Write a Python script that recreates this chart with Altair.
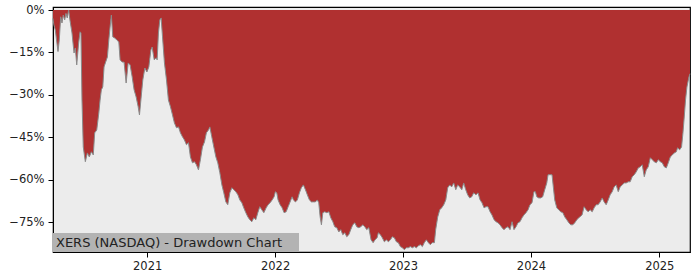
import altair as alt
import pandas as pd
import numpy as np

# decimal-year time stamps and drawdown (%)
years = [
    2020.266, 2020.273, 2020.284, 2020.305, 2020.315, 2020.326, 2020.336, 2020.346, 2020.357, 2020.367,
    2020.377, 2020.388, 2020.398, 2020.414, 2020.430, 2020.440, 2020.451, 2020.466, 2020.477, 2020.484,
    2020.492, 2020.502, 2020.518, 2020.534, 2020.549, 2020.565, 2020.580, 2020.591, 2020.607, 2020.623,
    2020.633, 2020.643, 2020.654, 2020.664, 2020.674, 2020.690, 2020.701, 2020.711, 2020.721, 2020.732,
    2020.748, 2020.763, 2020.779, 2020.789, 2020.805, 2020.820, 2020.836, 2020.852, 2020.867, 2020.883,
    2020.898, 2020.914, 2020.930, 2020.940, 2020.951, 2020.966, 2020.982, 2020.998, 2021.013, 2021.029,
    2021.039, 2021.055, 2021.070, 2021.078, 2021.088, 2021.099, 2021.109, 2021.120, 2021.135, 2021.151,
    2021.166, 2021.182, 2021.198, 2021.213, 2021.229, 2021.245, 2021.260, 2021.276, 2021.291, 2021.307,
    2021.323, 2021.338, 2021.354, 2021.370, 2021.385, 2021.401, 2021.416, 2021.432, 2021.448, 2021.463,
    2021.479, 2021.490, 2021.505, 2021.521, 2021.537, 2021.552, 2021.568, 2021.584, 2021.599, 2021.615,
    2021.630, 2021.646, 2021.662, 2021.677, 2021.693, 2021.709, 2021.724, 2021.740, 2021.755, 2021.771,
    2021.787, 2021.802, 2021.818, 2021.834, 2021.849, 2021.865, 2021.880, 2021.896, 2021.912, 2021.930,
    2021.945, 2021.961, 2021.977, 2021.992, 2022.002, 2022.013, 2022.023, 2022.039, 2022.055, 2022.070,
    2022.086, 2022.102, 2022.117, 2022.133, 2022.143, 2022.159, 2022.174, 2022.190, 2022.205, 2022.221,
    2022.237, 2022.252, 2022.268, 2022.284, 2022.299, 2022.315, 2022.330, 2022.341, 2022.352, 2022.362,
    2022.373, 2022.388, 2022.404, 2022.420, 2022.435, 2022.451, 2022.466, 2022.482, 2022.498, 2022.513,
    2022.529, 2022.545, 2022.560, 2022.576, 2022.591, 2022.607, 2022.623, 2022.638, 2022.654, 2022.670,
    2022.685, 2022.701, 2022.716, 2022.732, 2022.750, 2022.766, 2022.781, 2022.797, 2022.807, 2022.823,
    2022.838, 2022.854, 2022.870, 2022.885, 2022.901, 2022.916, 2022.932, 2022.948, 2022.963, 2022.979,
    2022.995, 2023.010, 2023.026, 2023.041, 2023.057, 2023.073, 2023.088, 2023.104, 2023.120, 2023.135,
    2023.151, 2023.166, 2023.182, 2023.198, 2023.213, 2023.229, 2023.245, 2023.255, 2023.271, 2023.287,
    2023.302, 2023.318, 2023.334, 2023.349, 2023.365, 2023.380, 2023.396, 2023.412, 2023.427, 2023.443,
    2023.459, 2023.474, 2023.490, 2023.505, 2023.521, 2023.537, 2023.552, 2023.570, 2023.586, 2023.602,
    2023.617, 2023.633, 2023.648, 2023.664, 2023.680, 2023.695, 2023.711, 2023.727, 2023.742, 2023.758,
    2023.773, 2023.789, 2023.805, 2023.820, 2023.836, 2023.852, 2023.867, 2023.883, 2023.898, 2023.914,
    2023.930, 2023.945, 2023.961, 2023.977, 2023.992, 2024.008, 2024.023, 2024.034, 2024.045, 2024.060,
    2024.076, 2024.091, 2024.107, 2024.123, 2024.133, 2024.148, 2024.164, 2024.174, 2024.185, 2024.201,
    2024.216, 2024.232, 2024.248, 2024.263, 2024.279, 2024.295, 2024.310, 2024.326, 2024.341, 2024.357,
    2024.373, 2024.398, 2024.414, 2024.430, 2024.445, 2024.461, 2024.477, 2024.492, 2024.508, 2024.523,
    2024.539, 2024.555, 2024.570, 2024.586, 2024.602, 2024.617, 2024.633, 2024.648, 2024.664, 2024.680,
    2024.695, 2024.711, 2024.727, 2024.742, 2024.758, 2024.773, 2024.789, 2024.805, 2024.820, 2024.836,
    2024.852, 2024.867, 2024.883, 2024.898, 2024.914, 2024.930, 2024.945, 2024.961, 2024.977, 2024.992,
    2025.008, 2025.023, 2025.039, 2025.055, 2025.070, 2025.086, 2025.102, 2025.117, 2025.133, 2025.143,
    2025.159, 2025.174, 2025.185, 2025.195, 2025.205, 2025.216, 2025.232, 2025.240,
]

drawdown = [
    -3.0, -5.3, -7.1, -14.7, -10.6, -2.4, -4.6, -1.8, -3.5, -1.2,
    -2.8, 0.0, -3.5, -8.1, -15.2, -13.4, -19.4, -11.6, -7.7, -8.1,
    -31.8, -48.4, -53.6, -50.5, -51.9, -50.1, -51.2, -43.4, -42.4, -36.4,
    -31.8, -28.2, -27.2, -20.1, -18.7, -16.6, -10.6, -6.0, -1.8, -9.5,
    -9.9, -10.6, -11.3, -17.6, -18.4, -18.4, -25.8, -18.7, -19.4, -23.6,
    -28.2, -30.7, -34.2, -37.1, -31.8, -24.7, -20.5, -21.9, -20.1, -14.1,
    -13.1, -17.6, -16.9, -17.6, -8.1, -3.5, -2.8, -9.5, -18.7, -24.7,
    -31.8, -34.2, -37.1, -39.9, -41.6, -41.3, -43.4, -44.8, -45.9, -47.6,
    -46.9, -51.9, -54.0, -53.6, -54.7, -56.5, -52.9, -48.4, -46.6, -43.4,
    -42.4, -41.3, -44.8, -48.4, -51.9, -54.0, -57.5, -61.8, -64.6, -67.8,
    -68.8, -64.6, -62.8, -63.5, -64.2, -65.3, -67.1, -68.1, -69.9, -71.6,
    -73.1, -74.1, -74.8, -73.4, -74.1, -71.6, -69.5, -70.6, -71.6, -69.9,
    -68.8, -68.1, -67.1, -66.0, -64.2, -64.6, -67.1, -68.8, -69.9, -71.6,
    -71.3, -69.5, -67.8, -66.0, -67.1, -67.8, -67.1, -64.6, -62.8, -61.8,
    -63.5, -65.3, -67.1, -67.8, -67.8, -67.8, -67.1, -68.1, -73.1, -75.9,
    -71.6, -71.3, -71.6, -71.3, -73.4, -74.8, -76.6, -76.9, -78.4, -77.6,
    -79.4, -78.7, -80.1, -79.4, -77.6, -75.9, -75.2, -76.6, -76.9, -76.6,
    -75.9, -76.6, -77.6, -76.9, -81.2, -82.2, -81.2, -80.5, -78.7, -79.4,
    -80.5, -81.9, -81.2, -81.9, -81.2, -80.1, -80.5, -81.9, -82.2, -83.6,
    -84.0, -84.7, -84.0, -84.0, -83.6, -84.0, -83.6, -84.0, -83.3, -82.9,
    -83.6, -82.2, -81.2, -82.2, -82.9, -82.2, -82.2, -77.6, -73.1, -70.6,
    -69.9, -68.8, -67.1, -62.8, -61.8, -62.5, -61.1, -63.5, -61.8, -62.5,
    -63.5, -61.1, -63.5, -65.3, -66.4, -66.0, -64.6, -65.3, -64.6, -67.1,
    -68.1, -69.9, -69.5, -69.5, -71.3, -72.4, -74.1, -74.8, -75.2, -75.9,
    -76.9, -77.6, -76.9, -76.6, -77.6, -74.8, -77.6, -76.6, -75.2, -74.8,
    -73.4, -72.4, -71.6, -70.6, -68.8, -68.1, -64.2, -64.2, -66.0, -66.4,
    -66.4, -66.0, -63.5, -61.1, -58.2, -58.2, -58.2, -62.5, -67.1, -69.9,
    -70.6, -71.3, -71.6, -73.1, -74.1, -75.2, -75.9, -75.9, -75.2, -74.1,
    -73.4, -72.4, -69.5, -70.6, -71.3, -70.6, -71.3, -69.9, -68.8, -68.8,
    -67.8, -66.4, -67.8, -68.8, -67.1, -65.3, -64.2, -62.5, -61.8, -64.2,
    -62.5, -61.8, -61.1, -61.1, -60.7, -60.7, -58.9, -58.2, -57.2, -55.8,
    -55.4, -54.7, -58.9, -56.5, -55.4, -52.2, -52.9, -53.6, -54.0, -52.9,
    -53.6, -54.0, -55.4, -55.8, -54.0, -51.9, -51.2, -50.5, -50.1, -48.7,
    -49.4, -48.4, -43.4, -37.8, -31.8, -27.2, -23.6, -22.5,
]

y_ticks = [0, -15, -30, -45, -60, -75]
x_tick_years = [2021, 2022, 2023, 2024, 2025]
label_text = "XERS (NASDAQ) - Drawdown Chart"


def to_date(y):
    yi = int(np.floor(y))
    start = pd.Timestamp(year=yi, month=1, day=1)
    end = pd.Timestamp(year=yi + 1, month=1, day=1)
    return start + (end - start) * (y - yi)


n = min(len(years), len(drawdown))
df = pd.DataFrame({
    "date": [to_date(v) for v in years[:n]],
    "dd": drawdown[:n],
})

x_domain = [to_date(2020.266).isoformat(), to_date(2025.240).isoformat()]
x_ticks = [alt.DateTime(year=y, month=1, date=1) for y in x_tick_years]

x_enc = alt.X(
    "date:T",
    scale=alt.Scale(domain=x_domain, nice=False),
    axis=alt.Axis(
        values=x_ticks, format="%Y", title=None, grid=False,
        tickSize=5, labelPadding=3, labelFontSize=11.5, labelFont="DejaVu Sans",
        labelColor="#222222", tickColor="#000000", domainColor="#000000",
        labelFlush=False,
    ),
)
y_enc = alt.Y(
    "dd:Q",
    scale=alt.Scale(domain=[-85.5, 1.06], nice=False, zero=False),
    axis=alt.Axis(
        values=y_ticks, title=None, grid=False,
        labelExpr="replace(format(datum.value, 'd'), '-', '\u2212') + '%'",
        tickSize=5, labelPadding=4, labelFontSize=11.5, labelFont="DejaVu Sans",
        labelColor="#222222", tickColor="#000000", domainColor="#000000",
    ),
)

base = alt.Chart(df)

area = base.mark_area(color="#b03030", opacity=1, interpolate="linear").encode(
    x=x_enc, y=y_enc, y2=alt.datum(0)
)
edge = base.mark_line(color="#8a8a8a", strokeWidth=1, interpolate="linear").encode(
    x="date:T", y="dd:Q"
)

box = alt.Chart(pd.DataFrame({"t": [label_text]})).mark_rect(
    color="#b3b3b3"
).encode(
    x=alt.value(0), x2=alt.value(246), y=alt.value(226), y2=alt.value(245)
)
text = alt.Chart(pd.DataFrame({"t": [label_text]})).mark_text(
    align="left", baseline="alphabetic", font="DejaVu Sans", fontSize=13, color="#222222"
).encode(
    text="t:N", x=alt.value(3), y=alt.value(239.5)
)

chart = alt.layer(area, edge, box, text).properties(
    width=637, height=245,
    autosize=alt.AutoSizeParams(type="none"),
    padding={"left": 53, "top": 7, "right": 10, "bottom": 28},
    background="#ffffff",
).configure_view(
    fill="#ececec", stroke="#000000", strokeWidth=1.2
)

chart.save("out.html", embed_options={"renderer": "svg", "actions": False})
